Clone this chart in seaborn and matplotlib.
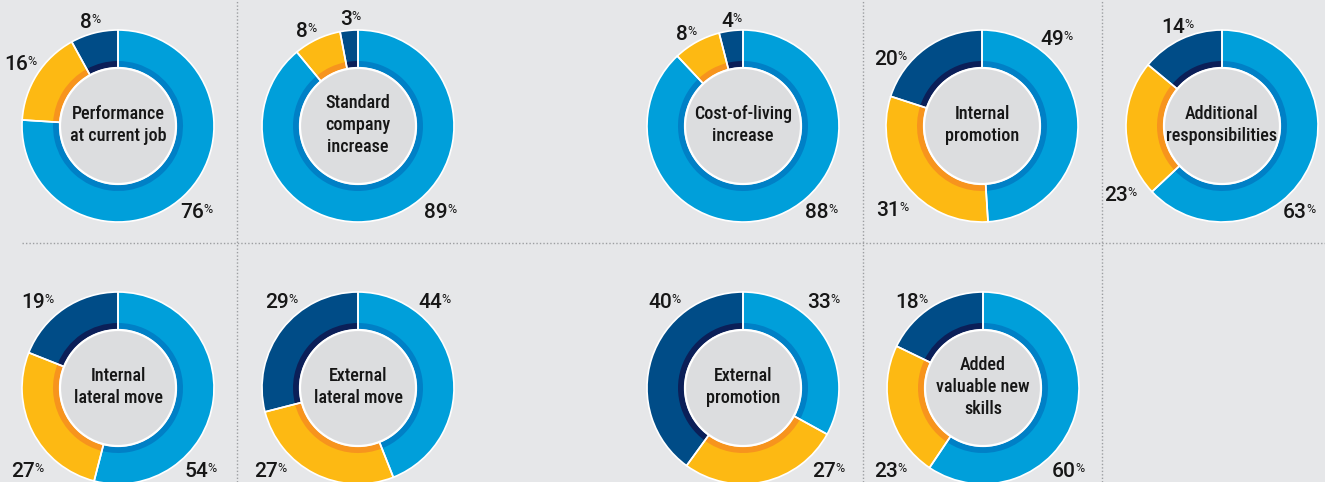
import os
import matplotlib
matplotlib.use("Agg")
import numpy as np
import pandas as pd
import seaborn as sns
import matplotlib.pyplot as plt
from matplotlib.patches import Circle
from matplotlib import font_manager as fm

# ---------------- data ----------------
titles = [
    "Performance\nat current job",
    "Standard\ncompany\nincrease",
    "Cost-of-living\nincrease",
    "Internal\npromotion",
    "Additional\nresponsibilities",
    "Internal\nlateral move",
    "External\nlateral move",
    "External\npromotion",
    "Added\nvaluable new\nskills",
]
blue = [76, 89, 88, 49, 63, 54, 44, 33, 60]
yellow = [16, 8, 8, 31, 23, 27, 27, 27, 23]
navy = [8, 3, 4, 20, 14, 19, 29, 40, 18]

# ---------------- layout (pixels) ----------------
W, H = 1325, 482
centers = [(118, 126), (358, 126), (743, 126), (982, 126), (1222, 126),
           (118, 388), (358, 388), (743, 388), (983, 388)]
# label anchor offsets (number right edge, digit centre) for blue, yellow, navy
label_offsets = [
    [(86, 85), (-90, -63), (-26, -105)],
    [(90, 85), (-50, -96), (-6, -108)],
    [(86, 85), (-55, -93), (-10, -106)],
    [(82, -88), (-82, 83), (-84, -68)],
    [(85, 85), (-94, 68), (-37, -100)],
    [(90, 82), (-83, 82), (-73, -87)],
    [(84, -87), (-80, 82), (-69, -87)],
    [(88, -87), (93, 82), (-71, -87)],
    [(93, 82), (-85, 82), (-64, -87)],
]

R_OUT, R_MID, R_IN = 96, 65, 58
bg = "#E6E7E9"
outer_cols = sns.color_palette(["#009FDA", "#FDB913", "#004C87"])
inner_cols = sns.color_palette(["#0080C6", "#F7941D", "#0B1F58"])
center_col = "#DCDDDF"
txt_col = "#161616"

sns.set_style("white")
plt.rcParams["font.family"] = ["Roboto", "DejaVu Sans"]


def pick_condensed():
    pref = ["liberation sans narrow", "roboto condensed", "noto sans", "open sans",
            "dejavu sans", "lato", "inter", "liberation sans"]
    best, best_score = None, None
    for f in fm.fontManager.ttflist:
        fn = os.path.basename(f.fname).lower()
        nm = f.name.lower()
        cond = ("condensed" in fn or "narrow" in fn or "condensed" in nm or "narrow" in nm
                or f.stretch in ("condensed", "semi-condensed", "extra-condensed"))
        if not cond or f.style != "normal" or "italic" in fn:
            continue
        if "mono" in fn or "serif" in nm or "cjk" in fn:
            continue
        score = 0
        if "extra" in fn or "ultra" in fn:
            score += 30
        if "semi" in fn:
            score += 5
        if "bold" in fn or "black" in fn or "heavy" in fn:
            score += 20
        w = f.weight if isinstance(f.weight, (int, float)) else 400
        score += abs(w - 500) / 15
        p = [i for i, s in enumerate(pref) if nm.startswith(s)]
        score += (p[0] if p else 10)
        if best_score is None or score < best_score:
            best, best_score = f.fname, score
    return best


cond_file = pick_condensed()
if cond_file:
    title_fp = fm.FontProperties(fname=cond_file, size=13)
else:
    title_fp = fm.FontProperties(family=["Liberation Sans", "DejaVu Sans"], size=12)

fig = plt.figure(figsize=(W / 100, H / 100), dpi=100)
fig.patch.set_facecolor(bg)
ax = fig.add_axes([0, 0, 1, 1])
ax.set_facecolor(bg)

df = pd.DataFrame({"title": titles, "blue": blue, "yellow": yellow, "navy": navy})

for i, row in df.iterrows():
    cx, cy = centers[i]
    yc = H - cy
    vals = [row["blue"], row["yellow"], row["navy"]]
    # main ring
    ax.pie(vals, center=(cx, yc), radius=R_OUT, startangle=90, counterclock=False,
           colors=outer_cols, wedgeprops=dict(width=R_OUT - R_IN, linewidth=0))
    # darker inner band
    ax.pie(vals, center=(cx, yc), radius=R_MID, startangle=90, counterclock=False,
           colors=inner_cols, wedgeprops=dict(width=R_MID - R_IN, linewidth=0))
    # white separators and outline
    ax.pie(vals, center=(cx, yc), radius=R_OUT, startangle=90, counterclock=False,
           wedgeprops=dict(width=R_OUT - R_IN, facecolor="none", edgecolor="white",
                           linewidth=1.2))
    ax.add_patch(Circle((cx, yc), R_IN, facecolor=center_col, edgecolor="white",
                        linewidth=1.6, zorder=5))
    ax.text(cx, yc + 1, row["title"], ha="center", va="center", fontproperties=title_fp,
            color=txt_col, linespacing=1.25, zorder=6)
    for v, (dx, dy) in zip(vals, label_offsets[i]):
        xj = cx + dx
        ydig = cy + dy
        ax.text(xj, H - (ydig + 7.4), f"{v}", ha="right", va="baseline",
                fontsize=15, fontweight="medium", color=txt_col, zorder=6)
        ax.text(xj - 0.8, H - (ydig + 2.2), "%", ha="left", va="baseline",
                fontsize=9, color=txt_col, zorder=6)

# dotted separators
sep = "#9C9EA1"
for x in (237, 862.5, 1102):
    ax.plot([x, x], [0, H], color=sep, lw=1.0, linestyle=(0, (1, 1.5)), zorder=0)
ax.plot([22, W], [H - 243, H - 243], color=sep, lw=1.0, linestyle=(0, (1, 1.5)), zorder=0)

ax.set_xlim(0, W)
ax.set_ylim(0, H)
ax.set_aspect("auto")
ax.axis("off")

fig.savefig("out.png", dpi=100, facecolor=bg)
